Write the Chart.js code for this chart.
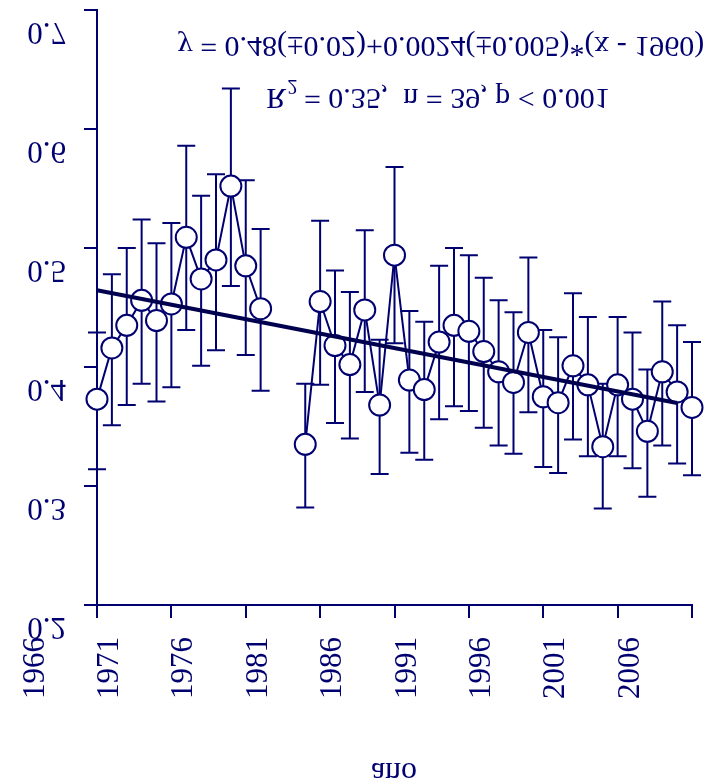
<!DOCTYPE html>
<html>
<head>
<meta charset="utf-8">
<title>ano</title>
<script src="https://cdn.jsdelivr.net/npm/chart.js@4/dist/chart.umd.min.js"></script>
<style>
  html, body { margin: 0; padding: 0; background: #fff; }
  #wrap { width: 715px; height: 782px; }
</style>
</head>
<body>
<div id="wrap"><canvas id="chart" width="715" height="782"></canvas></div>
<script>
/* annual series, mean with error bars, plus fitted trend */
var years = [1971, 1972, 1973, 1974, 1975, 1976, 1977, 1978, 1979, 1980,
             1981, 1982, 1983, 1984, 1985, 1986, 1987, 1988, 1989, 1990,
             1991, 1992, 1993, 1994, 1995, 1996, 1997, 1998, 1999, 2000,
             2001, 2002, 2003, 2004, 2005, 2006, 2007, 2008, 2009, 2010, 2011];

var means = [0.373, 0.416, 0.435, 0.456, 0.439, 0.453, 0.509, 0.474, 0.490, 0.552,
             0.485, 0.449, null, null, 0.335, 0.455, 0.418, 0.402, 0.448, 0.368,
             0.494, 0.389, 0.381, 0.421, 0.435, 0.430, 0.413, 0.396, 0.387, 0.429,
             0.375, 0.370, 0.401, 0.385, 0.333, 0.385, 0.373, 0.346, 0.396, 0.379, 0.366];

var upper = [0.429, 0.478, 0.500, 0.524, 0.504, 0.521, 0.586, 0.544, 0.562, 0.634,
             0.557, 0.516, null, null, 0.386, 0.523, 0.481, 0.463, 0.515, 0.423,
             0.568, 0.447, 0.438, 0.485, 0.500, 0.494, 0.475, 0.456, 0.446, 0.492,
             0.431, 0.425, 0.462, 0.442, 0.386, 0.442, 0.429, 0.398, 0.455, 0.435, 0.421];

var lower = [0.314, 0.351, 0.368, 0.386, 0.371, 0.383, 0.431, 0.401, 0.414, 0.468,
             0.410, 0.380, null, null, 0.282, 0.385, 0.353, 0.340, 0.379, 0.310,
             0.420, 0.328, 0.322, 0.356, 0.367, 0.363, 0.349, 0.334, 0.327, 0.362,
             0.316, 0.311, 0.339, 0.325, 0.281, 0.325, 0.315, 0.291, 0.334, 0.319, 0.309];

var fitYears = [1971, 2010];
var fitValues = [0.4645, 0.3697];

var yTicks = [0.2, 0.3, 0.4, 0.5, 0.6, 0.7];
var yTickLabels = ['0.2', '0.3', '0.4', '0.5', '0.6', '0.7'];
var xTicks = [1966, 1971, 1976, 1981, 1986, 1991, 1996, 2001, 2006];
var xTickLabels = ['1966', '1971', '1976', '1981', '1986', '1991', '1996', '2001', '2006'];

var eqLine1 = 'y = 0.48(\u00b10.02)+0.0024(\u00b10.005)*(x - 1960)';
var eqLine2 = ' = 0.35,  n = 39, p < 0.001';
var xTitle = 'ano';

(function () {
  'use strict';

  var INK = '#000070';
  var FIT = '#00004f';
  var SERIF = '"Liberation Serif", "Times New Roman", serif';

  // glyphs are drawn mirrored top-to-bottom around their middle line
  function flipText(ctx, text, x, y, align) {
    ctx.save();
    ctx.translate(x, y);
    ctx.scale(1, -1);
    ctx.textAlign = align;
    ctx.textBaseline = 'middle';
    ctx.fillText(text, 0, 0);
    ctx.restore();
  }

  var errorBars = {
    id: 'errorBars',
    beforeDatasetsDraw: function (chart) {
      var ctx = chart.ctx;
      var xs = chart.scales.x, ys = chart.scales.y;
      ctx.save();
      ctx.strokeStyle = INK;
      ctx.lineWidth = 2;
      years.forEach(function (yr, i) {
        if (upper[i] == null) return;
        var px = xs.getPixelForValue(yr);
        var top = ys.getPixelForValue(upper[i]);
        var bot = ys.getPixelForValue(lower[i]);
        ctx.beginPath();
        ctx.moveTo(px, top); ctx.lineTo(px, bot);
        ctx.moveTo(px - 9, top); ctx.lineTo(px + 9, top);
        ctx.moveTo(px - 9, bot); ctx.lineTo(px + 9, bot);
        ctx.stroke();
      });
      ctx.restore();
    }
  };

  var labels = {
    id: 'labels',
    afterDraw: function (chart) {
      var ctx = chart.ctx;
      var xs = chart.scales.x, ys = chart.scales.y;
      ctx.save();
      ctx.fillStyle = INK;

      // value axis
      ctx.font = '31px ' + SERIF;
      yTicks.forEach(function (v, i) {
        flipText(ctx, yTickLabels[i], 66, ys.getPixelForValue(v) + 21, 'right');
      });

      // year axis, rotated
      xTicks.forEach(function (yr, i) {
        ctx.save();
        ctx.translate(xs.getPixelForValue(yr) + 21, 637);
        ctx.rotate(-Math.PI / 2);
        ctx.textAlign = 'right';
        ctx.textBaseline = 'alphabetic';
        ctx.fillText(xTickLabels[i], 0, 0);
        ctx.restore();
      });

      ctx.font = '32px ' + SERIF;
      flipText(ctx, xTitle, 394, 771, 'center');

      // regression statistics
      ctx.font = '30px ' + SERIF;
      flipText(ctx, eqLine1, 441, 45, 'center');

      var wR = ctx.measureText('R').width;
      var wRest = ctx.measureText(eqLine2).width;
      ctx.font = '20px ' + SERIF;
      var wSup = ctx.measureText('2').width;
      var x0 = 438 - (wR + wSup + wRest) / 2;
      var y2 = 97;
      ctx.font = '30px ' + SERIF;
      flipText(ctx, 'R', x0, y2, 'left');
      flipText(ctx, eqLine2, x0 + wR + wSup, y2, 'left');
      ctx.font = '20px ' + SERIF;
      flipText(ctx, '2', x0 + wR + 1, y2 - 12, 'left');

      ctx.restore();
    }
  };

  var points = years.map(function (yr, i) { return { x: yr, y: means[i] }; });
  var fit = fitYears.map(function (yr, i) { return { x: yr, y: fitValues[i] }; });

  var axisCommon = {
    border: { display: true, color: INK, width: 2 },
    grid: { drawOnChartArea: false, drawTicks: true, tickLength: 13, color: INK, lineWidth: 2 },
    ticks: { display: false }
  };

  new Chart(document.getElementById('chart'), {
    type: 'line',
    data: {
      datasets: [{
        data: points,
        order: 1,
        clip: false,
        spanGaps: false,
        borderColor: INK,
        borderWidth: 2,
        tension: 0,
        pointRadius: 10.5,
        pointBorderWidth: 2,
        pointBackgroundColor: '#ffffff',
        pointBorderColor: INK
      }, {
        data: fit,
        order: 0,
        clip: false,
        borderColor: FIT,
        borderWidth: 4,
        pointRadius: 0
      }]
    },
    options: {
      responsive: false,
      animation: false,
      events: [],
      devicePixelRatio: 1,
      layout: { autoPadding: false, padding: { left: 84, right: 23, top: 10, bottom: 164 } },
      plugins: { legend: { display: false }, tooltip: { enabled: false } },
      scales: {
        x: Object.assign({}, axisCommon, {
          type: 'linear',
          min: 1971,
          max: 2011,
          ticks: { display: false, stepSize: 5 }
        }),
        y: Object.assign({}, axisCommon, {
          type: 'linear',
          min: 0.2,
          max: 0.7,
          ticks: { display: false, stepSize: 0.1 }
        })
      }
    },
    plugins: [errorBars, labels]
  });
}());
</script>
</body>
</html>
